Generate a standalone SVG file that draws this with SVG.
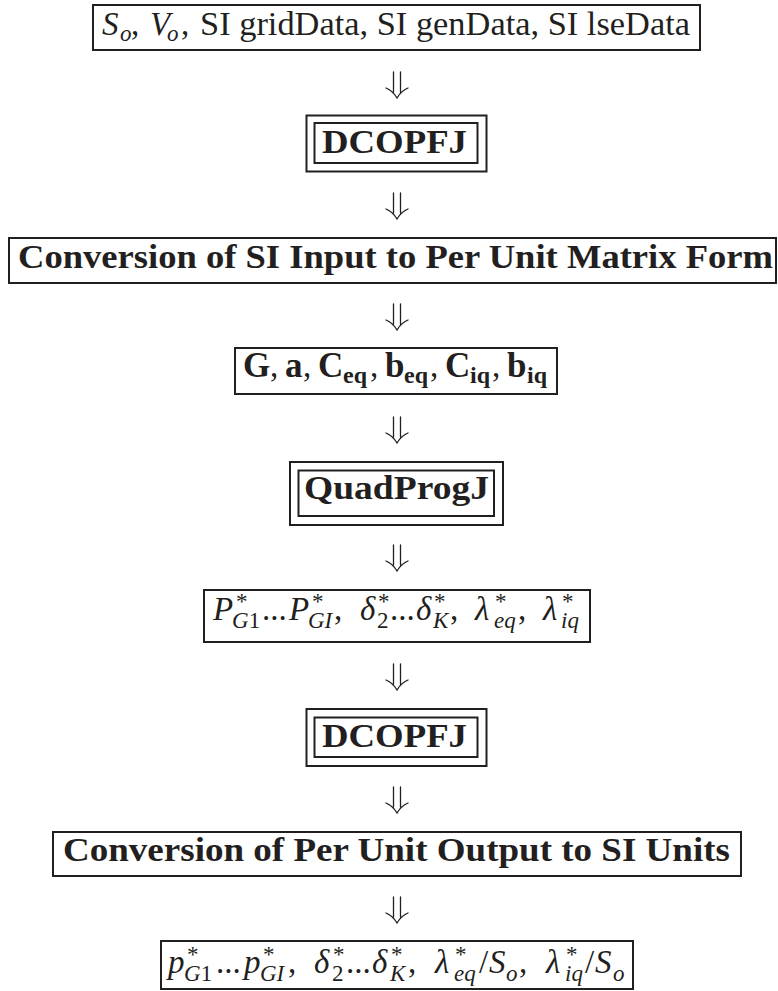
<svg xmlns="http://www.w3.org/2000/svg" width="778" height="991" viewBox="0 0 778 991">
<style>
  .bx { fill: none; stroke: #231f20; stroke-width: 2; }
  .t { font-family: "Liberation Serif", "DejaVu Serif", serif; fill: #231f20; }
  .r { font-size: 33px; }
  .i { font-size: 33px; font-style: italic; }
  .b { font-size: 33px; font-weight: bold; }
  .bm { font-size: 35px; font-weight: bold; }
  .bs { font-size: 24px; font-weight: bold; }
  .s { font-size: 23px; font-style: italic; }
  .su { font-size: 23px; }
  .arr { fill: none; stroke: #231f20; stroke-width: 1.3; stroke-linecap: round; }
</style>
<rect width="778" height="991" fill="#ffffff"/>

<g id="connectors">
  <path class="arr" d="M393.5,72 V92 M400.5,72 V92 M386,88 Q393,91 397,98 Q401,91 408,88"/>
  <path class="arr" d="M393.5,193 V213 M400.5,193 V213 M386,209 Q393,212 397,219 Q401,212 408,209"/>
  <path class="arr" d="M393.5,304 V324 M400.5,304 V324 M386,320 Q393,323 397,330 Q401,323 408,320"/>
  <path class="arr" d="M393.5,417 V437 M400.5,417 V437 M386,433 Q393,436 397,443 Q401,436 408,433"/>
  <path class="arr" d="M393.5,545 V565 M400.5,545 V565 M386,561 Q393,564 397,571 Q401,564 408,561"/>
  <path class="arr" d="M393.5,664 V684 M400.5,664 V684 M386,680 Q393,683 397,690 Q401,683 408,680"/>
  <path class="arr" d="M393.5,787 V807 M400.5,787 V807 M386,803 Q393,806 397,813 Q401,806 408,803"/>
  <path class="arr" d="M393.5,897 V917 M400.5,897 V917 M386,913 Q393,916 397,923 Q401,916 408,913"/>
</g>

<g id="input">
  <rect class="bx" x="93" y="5" width="607" height="45"/>
  <text class="t" y="35">
    <tspan class="i" x="102">S</tspan><tspan class="s" x="120" y="41">o</tspan><tspan class="r" x="131" y="35">,</tspan>
    <tspan class="i" x="150" y="35">V</tspan><tspan class="s" x="167" y="41">o</tspan><tspan class="r" x="181" y="35">,</tspan>
  </text>
  <text class="t r" x="200" y="35" textLength="490" lengthAdjust="spacingAndGlyphs">SI gridData, SI genData, SI lseData</text>
</g>

<g id="dcopfj1">
  <rect class="bx" x="306.5" y="115.5" width="180" height="56"/>
  <rect class="bx" x="314.5" y="123" width="163" height="40"/>
  <text class="t b" x="322" y="153" textLength="145" lengthAdjust="spacingAndGlyphs">DCOPFJ</text>
</g>

<g id="convert-in">
  <rect class="bx" x="9" y="238" width="767" height="45"/>
  <text class="t b" x="18" y="268" textLength="755" lengthAdjust="spacingAndGlyphs">Conversion of SI Input to Per Unit Matrix Form</text>
</g>

<g id="matrices">
  <rect class="bx" x="235" y="348" width="322" height="46"/>
  <text class="t" y="377">
    <tspan class="bm" x="243">G</tspan><tspan class="r" x="270">,</tspan>
    <tspan class="bm" x="285">a</tspan><tspan class="r" x="303">,</tspan>
    <tspan class="bm" x="318">C</tspan><tspan class="bs" x="343" y="383">eq</tspan><tspan class="r" x="370" y="377">,</tspan>
    <tspan class="bm" x="385">b</tspan><tspan class="bs" x="404" y="383">eq</tspan><tspan class="r" x="430" y="377">,</tspan>
    <tspan class="bm" x="445">C</tspan><tspan class="bs" x="470" y="383">iq</tspan><tspan class="r" x="492" y="377">,</tspan>
    <tspan class="bm" x="507">b</tspan><tspan class="bs" x="527" y="383">iq</tspan>
  </text>
</g>

<g id="quadprogj">
  <rect class="bx" x="290" y="462" width="213" height="63"/>
  <rect class="bx" x="298.5" y="470.5" width="195.5" height="45.5"/>
  <text class="t b" x="304" y="499" textLength="185" lengthAdjust="spacingAndGlyphs">QuadProgJ</text>
</g>

<g id="pu-results">
  <rect class="bx" x="204" y="590" width="386" height="52"/>
  <text class="t" y="620">
    <tspan class="i" x="213">P</tspan><tspan class="su" x="236" y="609">*</tspan><tspan class="s" x="232" y="628">G</tspan><tspan class="su" y="628">1</tspan>
    <tspan class="r" x="262" y="620">...</tspan>
    <tspan class="i" x="289" y="620">P</tspan><tspan class="su" x="312" y="609">*</tspan><tspan class="s" x="308" y="628">GI</tspan>
    <tspan class="r" x="334" y="620">,</tspan>
    <tspan class="i" x="360" y="620">δ</tspan><tspan class="su" x="378" y="609">*</tspan><tspan class="su" x="377" y="628">2</tspan>
    <tspan class="r" x="390" y="620">...</tspan>
    <tspan class="i" x="416" y="620">δ</tspan><tspan class="su" x="434" y="609">*</tspan><tspan class="s" x="433" y="628">K</tspan>
    <tspan class="r" x="450" y="620">,</tspan>
    <tspan class="i" x="475" y="620">λ</tspan><tspan class="su" x="495" y="609">*</tspan><tspan class="s" x="494" y="628">eq</tspan>
    <tspan class="r" x="518" y="620">,</tspan>
    <tspan class="i" x="543" y="620">λ</tspan><tspan class="su" x="562" y="609">*</tspan><tspan class="s" x="561" y="628">iq</tspan>
  </text>
</g>

<g id="dcopfj2">
  <rect class="bx" x="306.5" y="709" width="180" height="57"/>
  <rect class="bx" x="314.5" y="717.5" width="163" height="39.5"/>
  <text class="t b" x="322" y="747" textLength="145" lengthAdjust="spacingAndGlyphs">DCOPFJ</text>
</g>

<g id="convert-out">
  <rect class="bx" x="53" y="832" width="688" height="44"/>
  <text class="t b" x="63" y="861" textLength="667" lengthAdjust="spacingAndGlyphs">Conversion of Per Unit Output to SI Units</text>
</g>

<g id="si-results">
  <rect class="bx" x="161" y="941" width="472" height="48"/>
  <text class="t" y="973">
    <tspan class="i" x="168">p</tspan><tspan class="su" x="187" y="962">*</tspan><tspan class="s" x="184" y="981">G</tspan><tspan class="su" y="981">1</tspan>
    <tspan class="r" x="216" y="973">...</tspan>
    <tspan class="i" x="244" y="973">p</tspan><tspan class="su" x="263" y="962">*</tspan><tspan class="s" x="260" y="981">GI</tspan>
    <tspan class="r" x="288" y="973">,</tspan>
    <tspan class="i" x="314" y="973">δ</tspan><tspan class="su" x="333" y="962">*</tspan><tspan class="su" x="332" y="981">2</tspan>
    <tspan class="r" x="346" y="973">...</tspan>
    <tspan class="i" x="372" y="973">δ</tspan><tspan class="su" x="391" y="962">*</tspan><tspan class="s" x="390" y="981">K</tspan>
    <tspan class="r" x="408" y="973">,</tspan>
    <tspan class="i" x="435" y="973">λ</tspan><tspan class="su" x="455" y="962">*</tspan><tspan class="s" x="454" y="981">eq</tspan>
    <tspan class="r" x="479" y="973">/</tspan><tspan class="i" x="489" y="973">S</tspan><tspan class="s" x="506" y="981">o</tspan>
    <tspan class="r" x="519" y="973">,</tspan>
    <tspan class="i" x="546" y="973">λ</tspan><tspan class="su" x="566" y="962">*</tspan><tspan class="s" x="565" y="981">iq</tspan>
    <tspan class="r" x="585" y="973">/</tspan><tspan class="i" x="595" y="973">S</tspan><tspan class="s" x="613" y="981">o</tspan>
  </text>
</g>
</svg>
